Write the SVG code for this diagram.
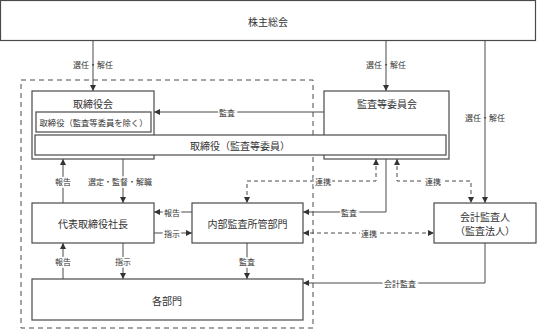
<svg xmlns="http://www.w3.org/2000/svg" width="537" height="330" viewBox="0 0 537 330">
<style>
.box{fill:#fff;stroke:#4a4a4a;stroke-width:1.2}
.ln{fill:none;stroke:#4a4a4a;stroke-width:1}
.dl{fill:none;stroke:#4a4a4a;stroke-width:1;stroke-dasharray:4 3}
.t{font-family:"Noto Sans CJK JP","Noto Sans CJK SC",sans-serif;fill:#333;text-anchor:middle;dominant-baseline:central}
.tt{font-size:10px}
.lb{font-size:8px}
.hl{stroke:#fff;stroke-width:3;paint-order:stroke}
</style>
<defs>
<marker id="ah" viewBox="0 0 6 6" refX="6" refY="3" markerWidth="6" markerHeight="6" markerUnits="userSpaceOnUse" orient="auto-start-reverse">
<path d="M0,0 L6,3 L0,6 z" fill="#333"/>
</marker>
</defs>
<rect x="21" y="80" width="292" height="248" fill="none" stroke="#4a4a4a" stroke-width="1" stroke-dasharray="5 4"/>
<g id="connectors">
<path class="ln" d="M93,41 V91" marker-end="url(#ah)"/>
<path class="ln" d="M386,41 V91" marker-end="url(#ah)"/>
<path class="ln" d="M485,41 V203" marker-end="url(#ah)"/>
<path class="ln" d="M324,112 H154" marker-end="url(#ah)"/>
<path class="ln" d="M63,203 V159" marker-end="url(#ah)"/>
<path class="ln" d="M123,159 V203" marker-end="url(#ah)"/>
<path class="ln" d="M192,212 H154" marker-end="url(#ah)"/>
<path class="ln" d="M154,233 H192" marker-end="url(#ah)"/>
<path class="ln" d="M63,279 V243" marker-end="url(#ah)"/>
<path class="ln" d="M123,243 V279" marker-end="url(#ah)"/>
<path class="ln" d="M247,243 V279" marker-end="url(#ah)"/>
<path class="dl" d="M376,159 V181 H247 V203" marker-start="url(#ah)" marker-end="url(#ah)"/>
<path class="dl" d="M397,159 V181 H471 V203" marker-start="url(#ah)" marker-end="url(#ah)"/>
<path class="ln" d="M386,159 V212 H303" marker-end="url(#ah)"/>
<path class="dl" d="M303,233 H434" marker-start="url(#ah)" marker-end="url(#ah)"/>
<path class="ln" d="M485,243 V283 H303" marker-end="url(#ah)"/>
<text class="t lb" x="93" y="64">選任・解任</text>
<text class="t lb" x="386" y="64">選任・解任</text>
<text class="t lb" x="485" y="117">選任・解任</text>
<text class="t lb hl" x="227" y="112">監査</text>
<text class="t lb hl" x="63" y="181">報告</text>
<text class="t lb hl" x="120" y="181">選定・監督・解職</text>
<text class="t lb hl" x="172" y="212">報告</text>
<text class="t lb hl" x="172" y="233">指示</text>
<text class="t lb hl" x="63" y="261">報告</text>
<text class="t lb hl" x="123" y="261">指示</text>
<text class="t lb hl" x="247" y="261">監査</text>
<text class="t lb hl" x="323" y="181">連携</text>
<text class="t lb hl" x="433" y="181">連携</text>
<text class="t lb hl" x="349" y="212">監査</text>
<text class="t lb hl" x="369" y="233">連携</text>
<text class="t lb hl" x="400" y="283">会計監査</text>
</g>
<g id="shareholders">
<rect class="box" x="0.5" y="0.5" width="535" height="40"/>
<text class="t tt" x="268" y="21">株主総会</text>
</g>
<g id="board">
<rect class="box" x="32" y="91" width="122" height="68"/>
<text class="t tt" x="93" y="103">取締役会</text>
</g>
<g id="directors">
<rect class="box" x="36" y="112" width="115" height="20"/>
<text class="t" style="font-size:8.3px" x="93.5" y="122">取締役（監査等委員を除く）</text>
</g>
<g id="audit-committee">
<rect class="box" x="324" y="91" width="125" height="68"/>
<text class="t tt" x="387" y="103">監査等委員会</text>
</g>
<g id="audit-directors">
<rect class="box" x="35" y="135" width="411" height="20"/>
<text class="t tt" x="240" y="145">取締役（監査等委員）</text>
</g>
<g id="president">
<rect class="box" x="32" y="203" width="122" height="40"/>
<text class="t tt" x="93" y="223">代表取締役社長</text>
</g>
<g id="internal-audit">
<rect class="box" x="192" y="203" width="111" height="40"/>
<text class="t tt" x="247.5" y="223">内部監査所管部門</text>
</g>
<g id="departments">
<rect class="box" x="32" y="279" width="271" height="41"/>
<text class="t tt" x="167" y="300">各部門</text>
</g>
<g id="auditor">
<rect class="box" x="434" y="203" width="102" height="40"/>
<text class="t tt" x="485" y="216">会計監査人</text>
<text class="t tt" x="485" y="230">（監査法人）</text>
</g>
</svg>
